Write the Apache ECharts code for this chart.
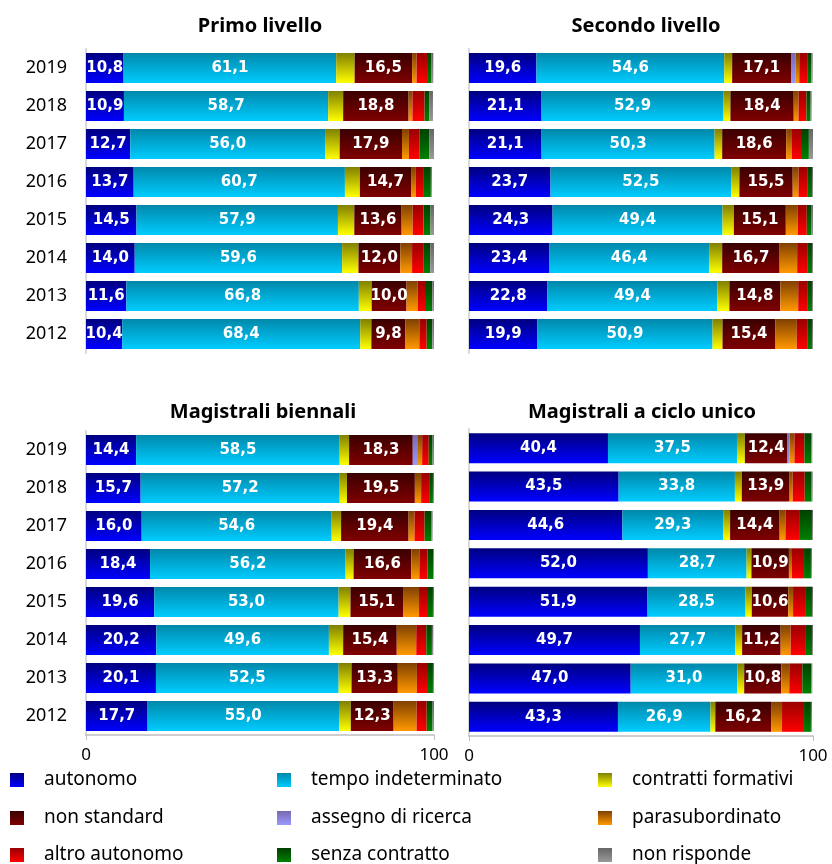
<!DOCTYPE html>
<html>
<head>
<meta charset="utf-8">
<title>Condizione occupazionale per tipo di corso</title>
<script src="https://cdn.jsdelivr.net/npm/echarts@6/dist/echarts.min.js"></script>
<style>
  html, body { margin: 0; padding: 0; background: #fff; }
  #chart { width: 832px; height: 864px; }
</style>
</head>
<body>
<div id="chart"></div>
<script>
const years = ['2019', '2018', '2017', '2016', '2015', '2014', '2013', '2012'];
const categories = ['autonomo', 'tempo indeterminato', 'contratti formativi', 'non standard',
  'assegno di ricerca', 'parasubordinato', 'altro autonomo', 'senza contratto', 'non risponde'];
const panelTitles = ['Primo livello', 'Secondo livello', 'Magistrali biennali', 'Magistrali a ciclo unico'];
const xTicks = [0, 100];

// one row per year (2019 -> 2012), values in the order of categories
const primoLivello = [
  [10.8, 61.1, 5.3, 16.5, 0, 1.3, 3.0, 1.3, 0.5],
  [10.9, 58.7, 4.3, 18.8, 0, 1.1, 3.5, 1.3, 1.1],
  [12.7, 56.0, 4.2, 17.9, 0, 2.0, 3.1, 2.7, 1.4],
  [13.7, 60.7, 4.3, 14.7, 0, 1.4, 2.3, 2.0, 0.3],
  [14.5, 57.9, 4.7, 13.6, 0, 3.2, 3.1, 2.0, 1.0],
  [14.0, 59.6, 4.7, 12.0, 0, 3.4, 3.2, 2.0, 1.1],
  [11.6, 66.8, 3.7, 10.0, 0, 3.2, 2.4, 1.8, 0.5],
  [10.4, 68.4, 3.2, 9.8, 0, 4.0, 2.1, 1.6, 0.5]
];
const secondoLivello = [
  [19.6, 54.6, 2.3, 17.1, 1.4, 1.0, 2.3, 1.2, 0.4],
  [21.1, 52.9, 2.0, 18.4, 0, 1.4, 2.3, 1.2, 0.3],
  [21.1, 50.3, 2.2, 18.6, 0, 1.7, 2.9, 2.0, 1.2],
  [23.7, 52.5, 2.4, 15.5, 0, 1.7, 2.5, 1.4, 0.3],
  [24.3, 49.4, 3.3, 15.1, 0, 3.5, 2.6, 1.4, 0.4],
  [23.4, 46.4, 3.8, 16.7, 0, 5.1, 2.9, 1.4, 0.3],
  [22.8, 49.4, 3.5, 14.8, 0, 5.2, 2.6, 1.4, 0.3],
  [19.9, 50.9, 2.9, 15.4, 0, 6.2, 3.2, 1.2, 0.3]
];
const magistraliBiennali = [
  [14.4, 58.5, 2.7, 18.3, 1.5, 1.2, 1.9, 1.1, 0.4],
  [15.7, 57.2, 2.1, 19.5, 0, 1.8, 2.3, 1.1, 0.3],
  [16.0, 54.6, 2.7, 19.4, 0, 1.7, 2.9, 2.0, 0.3],
  [18.4, 56.2, 2.3, 16.6, 0, 2.3, 2.3, 1.7, 0.2],
  [19.6, 53.0, 3.4, 15.1, 0, 4.6, 2.3, 1.7, 0.3],
  [20.2, 49.6, 4.1, 15.4, 0, 5.6, 2.9, 1.6, 0.4],
  [20.1, 52.5, 3.7, 13.3, 0, 5.5, 2.9, 1.7, 0.3],
  [17.7, 55.0, 3.4, 12.3, 0, 6.6, 2.9, 1.7, 0.4]
];
const magistraliCicloUnico = [
  [40.4, 37.5, 2.3, 12.4, 0.6, 1.4, 2.9, 2.0, 0.3],
  [43.5, 33.8, 2.0, 13.9, 0, 0.9, 3.5, 2.0, 0.3],
  [44.6, 29.3, 2.0, 14.4, 0, 1.7, 4.2, 3.5, 0.3],
  [52.0, 28.7, 1.4, 10.9, 0, 0.9, 3.5, 2.0, 0.3],
  [51.9, 28.5, 1.8, 10.6, 0, 1.4, 3.5, 2.0, 0.3],
  [49.7, 27.7, 2.0, 11.2, 0, 2.9, 4.2, 2.0, 0.3],
  [47.0, 31.0, 2.0, 10.8, 0, 2.3, 3.8, 2.6, 0.3],
  [43.3, 26.9, 1.4, 16.2, 0, 3.2, 6.4, 2.0, 0.3]
];
const panels = [primoLivello, secondoLivello, magistraliBiennali, magistraliCicloUnico];

// shading: darker at the top of each bar, brighter at the bottom
const topColors = ['#000080', '#0088aa', '#808000', '#3a0000', '#7a68b0', '#804000', '#990000', '#004000', '#666666'];
const bottomColors = ['#0000ff', '#00ccff', '#ffff00', '#800000', '#9999ff', '#ff9900', '#ff0000', '#008000', '#999999'];
const labelled = [0, 1, 3];

const grids = [
  { left: 86, top: 49, width: 348, height: 304 },
  { left: 469, top: 49, width: 344, height: 304 },
  { left: 86, top: 431, width: 348, height: 304 },
  { left: 469, top: 429, width: 344, height: 307 }
];
const titleCenters = [[255, 11], [641, 11], [258, 397], [637, 397]];

let chart = echarts.init(document.getElementById('chart'));

let series = [];
panels.forEach((rows, p) => {
  categories.forEach((name, c) => {
    series.push({
      name: name,
      type: 'bar',
      stack: 'panel' + p,
      xAxisIndex: p,
      yAxisIndex: p,
      barWidth: 30,
      itemStyle: {
        color: new echarts.graphic.LinearGradient(0, 0, 0, 1, [
          { offset: 0, color: topColors[c] },
          { offset: 1, color: bottomColors[c] }
        ])
      },
      label: {
        show: labelled.includes(c),
        position: 'inside',
        color: '#fff',
        fontFamily: 'DejaVu Sans',
        fontWeight: 'bold',
        fontSize: 15,
        formatter: (d) => d.value.toFixed(1).replace('.', ',')
      },
      emphasis: { disabled: true },
      data: rows.map(r => r[c])
    });
  });
});

// legend laid out 3 x 3, reading row by row in the order of categories
const legendLefts = [10, 277, 598];
const legendTops = [770, 808, 845];

chart.setOption({
  animation: false,
  backgroundColor: '#fff',
  title: panelTitles.map((t, i) => ({
    text: t,
    left: titleCenters[i][0],
    top: titleCenters[i][1],
    textAlign: 'center',
    textStyle: {
      fontFamily: 'Noto Sans',
      fontWeight: 'bold',
      fontSize: 20,
      color: '#000'
    }
  })),
  legend: categories.map((name, c) => ({
    left: legendLefts[c % 3],
    top: legendTops[Math.floor(c / 3)],
    padding: 0,
    itemWidth: 14,
    itemHeight: 14,
    icon: 'rect',
    selectedMode: false,
    data: [name],
    textStyle: {
      fontFamily: 'Noto Sans',
      fontSize: 19,
      lineHeight: 20,
      color: '#000',
      padding: [0, 0, 0, 15]
    }
  })),
  grid: grids,
  xAxis: grids.map((g, i) => ({
    type: 'value',
    gridIndex: i,
    min: xTicks[0],
    max: xTicks[1],
    interval: xTicks[1] - xTicks[0],
    show: i >= 2,
    splitLine: { show: false },
    axisLine: { show: true, lineStyle: { color: '#bfbfbf', width: 1.5 } },
    axisTick: { show: true, length: 5, lineStyle: { color: '#bfbfbf' } },
    axisLabel: {
      margin: 12,
      fontFamily: 'Noto Sans',
      fontSize: 17,
      color: '#000'
    }
  })),
  yAxis: grids.map((g, i) => ({
    type: 'category',
    gridIndex: i,
    inverse: true,
    data: years,
    axisTick: { show: false },
    axisLine: { show: true, lineStyle: { color: '#d9d9d9', width: 2 } },
    axisLabel: {
      show: i % 2 === 0,
      margin: 19,
      fontFamily: 'Noto Sans',
      fontSize: 18,
      color: '#000'
    }
  })),
  series: series
});
</script>
</body>
</html>
